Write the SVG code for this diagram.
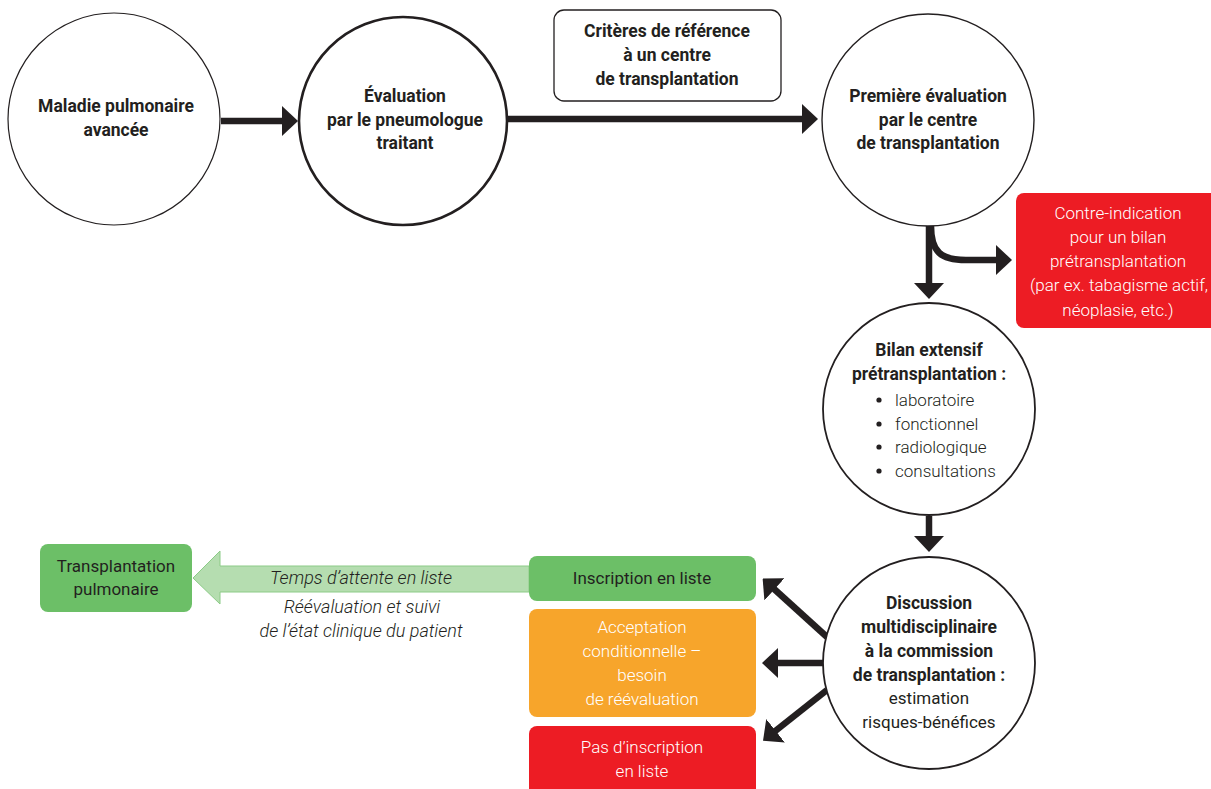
<svg xmlns="http://www.w3.org/2000/svg" width="1211" height="789" viewBox="0 0 1211 789">
<style>
.c{fill:#fff;stroke:#231f20}
.b{font-family:Roboto,"Liberation Sans",sans-serif;font-weight:700;font-size:17.5px;fill:#231f20;text-anchor:middle}
.r{font-family:Roboto,"Liberation Sans",sans-serif;font-weight:400;font-size:17px;fill:#231f20;text-anchor:middle}
.w{font-family:Roboto,"Liberation Sans",sans-serif;font-weight:300;font-size:17px;fill:#fff;text-anchor:middle}
.i{font-family:Roboto,"Liberation Sans",sans-serif;font-style:italic;font-weight:300;font-size:18px;fill:#231f20;text-anchor:middle}
.l{font-family:Roboto,"Liberation Sans",sans-serif;font-weight:300;font-size:17px;fill:#231f20}
.a{fill:none;stroke:#231f20;stroke-width:6.5}
</style>
<defs>
<marker id="h" markerUnits="userSpaceOnUse" viewBox="0 -15 16 30" refX="2" refY="0" markerWidth="16" markerHeight="30" orient="auto">
<path d="M0,-15 L16,0 L0,15 z" fill="#231f20"/>
</marker>
</defs>
<g id="connectors">
<line class="a" x1="221" y1="121" x2="284" y2="121" marker-end="url(#h)"/>
<line class="a" x1="507" y1="119" x2="804" y2="119" marker-end="url(#h)"/>
<line class="a" x1="929" y1="226" x2="929" y2="285" marker-end="url(#h)"/>
<path class="a" d="M931,226 C931,252 941,260 966,260 L998,260" marker-end="url(#h)"/>
<line class="a" x1="929" y1="516" x2="929" y2="538" marker-end="url(#h)"/>
<line class="a" x1="827" y1="637" x2="773" y2="588" marker-end="url(#h)"/>
<line class="a" x1="824" y1="663" x2="776" y2="663" marker-end="url(#h)"/>
<line class="a" x1="827" y1="690" x2="774" y2="732" marker-end="url(#h)"/>
<polygon points="529,566 220,566 220,551 193,578 220,604 220,592 529,592" fill="#b5ddb0" stroke="#8ccb87" stroke-width="1"/>
<text class="i" x="361" y="584">Temps d’attente en liste</text>
<text class="i" x="362" y="613">Réévaluation et suivi</text>
<text class="i" x="361" y="637">de l’état clinique du patient</text>
</g>
<g id="maladie">
<circle class="c" cx="114" cy="119" r="106" stroke-width="1.2"/>
<text class="b" x="116" y="112">Maladie pulmonaire</text>
<text class="b" x="116" y="136">avancée</text>
</g>
<g id="evaluation">
<circle class="c" cx="403" cy="121" r="104" stroke-width="2.6"/>
<text class="b" x="405" y="102">Évaluation</text>
<text class="b" x="405" y="126">par le pneumologue</text>
<text class="b" x="405" y="149">traitant</text>
</g>
<g id="criteres">
<rect x="554" y="10" width="227" height="91" rx="10" fill="#fff" stroke="#231f20" stroke-width="1.3"/>
<text class="b" x="667" y="37">Critères de référence</text>
<text class="b" x="667" y="61">à un centre</text>
<text class="b" x="667" y="85">de transplantation</text>
</g>
<g id="premiere">
<circle class="c" cx="928" cy="120" r="106" stroke-width="1.4"/>
<text class="b" x="928" y="102">Première évaluation</text>
<text class="b" x="928" y="126">par le centre</text>
<text class="b" x="928" y="149">de transplantation</text>
</g>
<g id="contre-indication">
<rect x="1016" y="193" width="205" height="135" rx="8" fill="#ed1c24"/>
<text class="w" x="1118" y="219" font-size="17.5">Contre-indication</text>
<text class="w" x="1118" y="243" font-size="17.5">pour un bilan</text>
<text class="w" x="1118" y="267" font-size="17.5">prétransplantation</text>
<text class="w" x="1119" y="291">(par ex. tabagisme actif,</text>
<text class="w" x="1118" y="316" font-size="17.5">néoplasie, etc.)</text>
</g>
<g id="bilan">
<circle class="c" cx="929" cy="409" r="106" stroke-width="1.8"/>
<text class="b" x="929" y="356">Bilan extensif</text>
<text class="b" x="929" y="380">prétransplantation :</text>
<g fill="#231f20"><circle cx="879" cy="400" r="2.6"/><circle cx="879" cy="424" r="2.6"/><circle cx="879" cy="447" r="2.6"/><circle cx="879" cy="471" r="2.6"/></g>
<text class="l" x="895" y="406">laboratoire</text>
<text class="l" x="895" y="430">fonctionnel</text>
<text class="l" x="895" y="453">radiologique</text>
<text class="l" x="895" y="477">consultations</text>
</g>
<g id="discussion">
<circle class="c" cx="929" cy="663" r="106" stroke-width="1.8"/>
<text class="b" x="929" y="609">Discussion</text>
<text class="b" x="929" y="633">multidisciplinaire</text>
<text class="b" x="929" y="657">à la commission</text>
<text class="b" x="929" y="681">de transplantation :</text>
<text class="r" x="929" y="704" font-weight="300">estimation</text>
<text class="r" x="929" y="728" font-weight="300">risques-bénéfices</text>
</g>
<g id="inscription">
<rect x="529" y="556" width="227" height="45" rx="8" fill="#6cbf67"/>
<text class="r" x="642" y="584" font-size="17.5">Inscription en liste</text>
</g>
<g id="acceptation">
<rect x="529" y="609" width="227" height="108" rx="8" fill="#f7a52b"/>
<text class="w" x="642" y="633" font-size="17.5">Acceptation</text>
<text class="w" x="642" y="657" font-size="17.5">conditionnelle –</text>
<text class="w" x="642" y="681" font-size="17.5">besoin</text>
<text class="w" x="642" y="705" font-size="17.5">de réévaluation</text>
</g>
<g id="pas-inscription">
<rect x="529" y="726" width="227" height="75" rx="8" fill="#ed1c24"/>
<text class="w" x="642" y="753" font-size="17.5">Pas d’inscription</text>
<text class="w" x="642" y="777" font-size="17.5">en liste</text>
</g>
<g id="transplantation">
<rect x="40" y="544" width="152" height="68" rx="8" fill="#6cbf67"/>
<text class="r" x="116" y="572" font-size="17.5">Transplantation</text>
<text class="r" x="116" y="595" font-size="17.5">pulmonaire</text>
</g>
</svg>
